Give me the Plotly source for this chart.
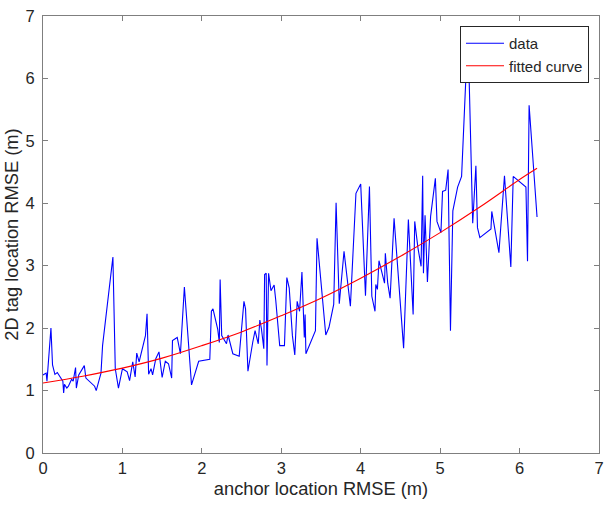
import plotly.graph_objects as go

anchor_rmse = [0.00, 0.04, 0.05, 0.10, 0.12, 0.15, 0.18, 0.21, 0.25, 0.26, 0.27, 0.30, 0.32, 0.36, 0.38,
               0.41, 0.42, 0.45, 0.52, 0.54, 0.65, 0.67, 0.73, 0.75, 0.88, 0.91, 0.95, 1.00, 1.06, 1.09,
               1.13, 1.16, 1.18, 1.21, 1.29, 1.31, 1.33, 1.36, 1.38, 1.42, 1.46, 1.50, 1.54, 1.58, 1.62,
               1.63, 1.69, 1.73, 1.78, 1.87, 1.96, 2.10, 2.12, 2.14, 2.20, 2.22, 2.23, 2.25, 2.31, 2.33,
               2.39, 2.47, 2.53, 2.55, 2.58, 2.64, 2.67, 2.71, 2.73, 2.75, 2.78, 2.79, 2.81, 2.82, 2.84,
               2.87, 2.91, 2.93, 2.98, 3.04, 3.07, 3.10, 3.14, 3.17, 3.20, 3.23, 3.26, 3.29, 3.30, 3.31,
               3.43, 3.45, 3.56, 3.60, 3.66, 3.69, 3.73, 3.79, 3.87, 3.94, 4.00, 4.06, 4.11, 4.14, 4.18,
               4.19, 4.21, 4.23, 4.28, 4.30, 4.31, 4.34, 4.37, 4.42, 4.54, 4.60, 4.66, 4.68, 4.72, 4.76,
               4.78, 4.79, 4.81, 4.84, 4.88, 4.94, 4.96, 5.01, 5.03, 5.07, 5.10, 5.13, 5.16, 5.22, 5.27,
               5.35, 5.41, 5.45, 5.47, 5.50, 5.64, 5.65, 5.74, 5.81, 5.89, 5.92, 6.08, 6.10, 6.12, 6.22]
tag_rmse = [1.25, 1.28, 1.15, 2.00, 1.41, 1.26, 1.29, 1.22, 1.15, 0.96, 1.10, 1.04, 1.07, 1.18, 1.15,
            1.37, 1.04, 1.25, 1.40, 1.20, 1.07, 1.00, 1.28, 1.72, 3.14, 1.35, 1.04, 1.35, 1.30, 1.16,
            1.46, 1.22, 1.60, 1.46, 1.88, 2.23, 1.26, 1.35, 1.25, 1.51, 1.62, 1.21, 1.47, 1.43, 1.20,
            1.80, 1.85, 1.59, 2.66, 1.09, 1.47, 1.50, 2.27, 2.31, 1.98, 1.77, 2.78, 1.88, 1.75, 1.89,
            1.59, 1.55, 2.43, 2.31, 1.31, 1.77, 1.96, 1.75, 2.13, 1.99, 1.67, 2.86, 2.88, 1.40, 2.88,
            2.60, 2.69, 2.45, 1.72, 1.72, 2.81, 2.64, 1.88, 1.57, 2.43, 2.27, 2.90, 1.85, 2.22, 1.59,
            1.96, 3.44, 1.89, 2.01, 2.38, 4.01, 2.39, 3.23, 2.35, 4.16, 4.31, 2.52, 4.27, 2.51, 2.27,
            2.70, 2.62, 3.08, 2.82, 2.72, 3.20, 2.72, 2.48, 3.76, 1.68, 3.74, 2.22, 3.71, 3.29, 2.99,
            4.44, 2.88, 3.81, 2.74, 3.79, 4.40, 3.71, 3.53, 4.19, 4.21, 4.54, 1.96, 3.88, 4.26, 4.43,
            6.77, 3.68, 4.60, 3.61, 3.45, 3.59, 3.87, 3.21, 4.44, 2.98, 4.43, 4.26, 3.07, 5.57, 3.78]

# fitted curve
fit_x = [0.0, 0.5, 1.0, 1.5, 2.0, 2.5, 3.0, 3.5, 4.0, 4.5, 5.0, 5.5, 6.0, 6.22]
fit_y = [1.12, 1.23, 1.36, 1.52, 1.72, 1.94, 2.20, 2.48, 2.80, 3.15, 3.53, 3.94, 4.38, 4.56]

x_ticks = [0, 1, 2, 3, 4, 5, 6, 7]
y_ticks = [0, 1, 2, 3, 4, 5, 6, 7]

FONT = "Liberation Sans, Arial, Helvetica, sans-serif"
TXT = "#262626"
AX = "#7f7f7f"

fig = go.Figure()
fig.add_trace(go.Scatter(x=anchor_rmse, y=tag_rmse, mode="lines", name="data",
                         line=dict(color="#0000ff", width=1.1)))
fig.add_trace(go.Scatter(x=fit_x, y=fit_y, mode="lines", name="fitted curve",
                         line=dict(color="#ff0000", width=1.1, shape="spline")))

axis_common = dict(showline=True, linecolor=AX, linewidth=1, mirror="ticks",
                   ticks="inside", ticklen=5, tickcolor=AX, tickwidth=1,
                   showgrid=False, zeroline=False, ticklabeloverflow="allow",
                   tickfont=dict(family=FONT, size=16.5, color=TXT),
                   range=[0, 7])

fig.update_xaxes(**axis_common, tickvals=x_ticks, ticktext=[str(v) for v in x_ticks],
                 title=dict(text="anchor location RMSE (m)",
                            font=dict(family=FONT, size=18.3, color=TXT), standoff=6))
fig.update_yaxes(**axis_common, tickvals=y_ticks, ticktext=[str(v) for v in y_ticks],
                 ticklabelstandoff=4,
                 title=dict(text="2D tag location RMSE (m)",
                            font=dict(family=FONT, size=18.3, color=TXT), standoff=2))

fig.update_layout(
    width=611, height=508,
    margin=dict(l=43, r=7, t=7, b=55),
    paper_bgcolor="white", plot_bgcolor="white",
    showlegend=True,
    legend=dict(x=0.75, y=0.977, xanchor="left", yanchor="top",
                bgcolor="white", bordercolor=TXT, borderwidth=1,
                font=dict(family=FONT, size=15, color=TXT),
                itemwidth=38, tracegroupgap=0),
)

fig.write_html("out.html")
